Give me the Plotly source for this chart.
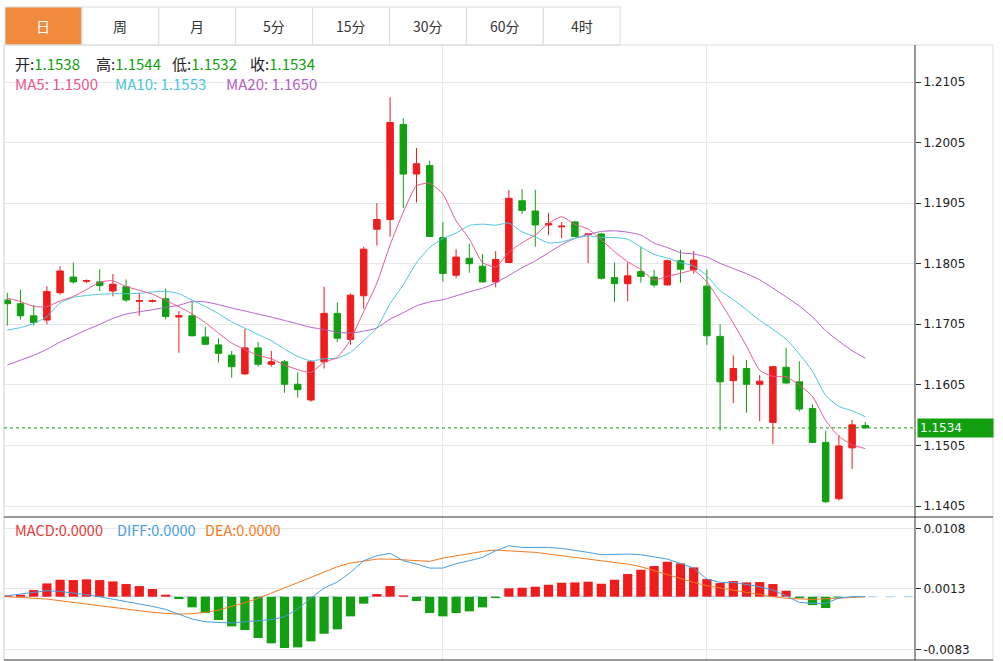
import plotly.graph_objects as go
import pandas as pd

W, H = 1003, 661

# ---------------- data ----------------
opens = [1.1745, 1.1739, 1.1719, 1.1712, 1.1757, 1.1783, 1.1776, 1.1775, 1.1760, 1.1767,
         1.1743, 1.1743, 1.1747, 1.1717, 1.1719, 1.1684, 1.1671, 1.1654, 1.1623, 1.1666,
         1.1639, 1.1643, 1.1606, 1.1580, 1.1643, 1.1723, 1.1680, 1.1752, 1.1862, 1.1878,
         1.2035, 1.1953, 1.1967, 1.1848, 1.1786, 1.1814, 1.1801, 1.1775, 1.1807, 1.1909,
         1.1892, 1.1869, 1.1866, 1.1874, 1.1853, 1.1854, 1.1782, 1.1772, 1.1792, 1.1783,
         1.1770, 1.1810, 1.1795, 1.1768, 1.1685, 1.1612, 1.1632, 1.1606, 1.1543, 1.1634,
         1.1610, 1.1566, 1.1510, 1.1417, 1.1501, 1.1538]
highs = [1.1757, 1.1762, 1.1737, 1.1768, 1.1801, 1.1807, 1.1779, 1.1796, 1.1788, 1.1779,
         1.1757, 1.1746, 1.1764, 1.1727, 1.1742, 1.1701, 1.1682, 1.1661, 1.1697, 1.1676,
         1.1661, 1.1646, 1.1626, 1.1646, 1.1767, 1.1741, 1.1756, 1.1833, 1.1905, 1.2080,
         1.2045, 1.1996, 1.1975, 1.1874, 1.1829, 1.1838, 1.1821, 1.1826, 1.1927, 1.1928,
         1.1927, 1.1889, 1.1874, 1.1875, 1.1855, 1.1856, 1.1807, 1.1807, 1.1832, 1.1795,
         1.1812, 1.1828, 1.1826, 1.1795, 1.1705, 1.1654, 1.1646, 1.1621, 1.1636, 1.1666,
         1.1644, 1.1573, 1.1529, 1.1522, 1.1547, 1.1544]
lows = [1.1703, 1.1713, 1.1703, 1.1705, 1.1754, 1.1772, 1.1773, 1.1760, 1.1751, 1.1742,
        1.1719, 1.1741, 1.1713, 1.1658, 1.1685, 1.1671, 1.1642, 1.1617, 1.1622, 1.1635,
        1.1635, 1.1592, 1.1584, 1.1577, 1.1632, 1.1676, 1.1671, 1.1731, 1.1835, 1.1850,
        1.1897, 1.1906, 1.1849, 1.1775, 1.1781, 1.1790, 1.1774, 1.1766, 1.1806, 1.1887,
        1.1833, 1.1852, 1.1847, 1.1849, 1.1806, 1.1779, 1.1742, 1.1743, 1.1774, 1.1766,
        1.1769, 1.1774, 1.1789, 1.1671, 1.1530, 1.1575, 1.1559, 1.1545, 1.1507, 1.1607,
        1.1561, 1.1509, 1.1410, 1.1414, 1.1466, 1.1532]
closes = [1.1739, 1.1719, 1.1708, 1.1759, 1.1793, 1.1775, 1.1777, 1.1769, 1.1771, 1.1745,
          1.1744, 1.1744, 1.1718, 1.1719, 1.1686, 1.1672, 1.1657, 1.1635, 1.1666, 1.1639,
          1.1643, 1.1606, 1.1597, 1.1643, 1.1723, 1.1682, 1.1753, 1.1829, 1.1878, 1.2038,
          1.1953, 1.1970, 1.1850, 1.1789, 1.1816, 1.1805, 1.1775, 1.1812, 1.1913, 1.1893,
          1.1869, 1.1871, 1.1867, 1.1850, 1.1854, 1.1781, 1.1772, 1.1785, 1.1784, 1.1770,
          1.1810, 1.1796, 1.1811, 1.1686, 1.1610, 1.1632, 1.1606, 1.1611, 1.1635, 1.1608,
          1.1565, 1.1510, 1.1412, 1.1504, 1.1539, 1.1534]
# closes before the visible window (estimated from where the MA lines start)
prior_closes = [1.1559, 1.1548, 1.1559, 1.1553, 1.1575, 1.1577, 1.1589, 1.1571, 1.1605, 1.1664,
                1.1679, 1.1638, 1.1649, 1.1563, 1.1685, 1.1747, 1.1749, 1.1761, 1.1745]

macd_hist = [0.0002, 0.0003, 0.00105, 0.0021, 0.00268, 0.00263, 0.00274, 0.00263, 0.00242, 0.0020,
             0.00168, 0.00121, 0.00032, -0.00037, -0.00168, -0.00258, -0.00368, -0.00468, -0.00526, -0.00652,
             -0.00736, -0.0081, -0.0080, -0.00705, -0.00584, -0.00515, -0.0031, -0.0011, 0.00042, 0.00168,
             0.00021, -0.00068, -0.00258, -0.0031, -0.00258, -0.00231, -0.00168, -0.00021, 0.00132, 0.00142,
             0.00158, 0.00189, 0.00221, 0.00226, 0.00237, 0.00205, 0.00268, 0.00358, 0.00426, 0.00484,
             0.00552, 0.00526, 0.00463, 0.00279, 0.00216, 0.00247, 0.00226, 0.00231, 0.0020, 0.00095,
             -0.00021, -0.00132, -0.00179, -0.00016, 0.0, 0.0]
diff_line = [0.00016, 0.00042, 0.00068, 0.00095, 0.00084, 0.00063, 0.00032, 0.0, -0.00037, -0.00074,
             -0.0011, -0.00153, -0.0020, -0.00274, -0.00352, -0.00395, -0.0041, -0.00416, -0.00395, -0.00384,
             -0.00363, -0.00316, -0.00195, -0.00021, 0.00137, 0.00231, 0.00384, 0.00568, 0.00647, 0.00684,
             0.00568, 0.00515, 0.00452, 0.00452, 0.00521, 0.00568, 0.00621, 0.00726, 0.00805, 0.00778,
             0.00778, 0.00778, 0.00763, 0.00736, 0.0070, 0.00663, 0.00673, 0.00673, 0.00663, 0.00631,
             0.00594, 0.00526, 0.00452, 0.00279, 0.00226, 0.00226, 0.00189, 0.00158, 0.00105, 0.00016,
             -0.00089, -0.00105, -0.00105, -0.00021, 0.0, 0.0]
dea_line = [0.0, -0.00011, -0.00021, -0.00037, -0.00063, -0.00089, -0.00121, -0.00147, -0.00174, -0.0020,
            -0.00221, -0.00247, -0.00263, -0.00274, -0.00268, -0.00247, -0.0021, -0.00158, -0.00095, -0.00026,
            0.00053, 0.00137, 0.00221, 0.00305, 0.00395, 0.00473, 0.00531, 0.00568, 0.00594, 0.00594,
            0.00579, 0.00568, 0.00558, 0.0061, 0.00647, 0.00684, 0.00715, 0.00736, 0.00726, 0.00715,
            0.0070, 0.00673, 0.00647, 0.00621, 0.00594, 0.00568, 0.00542, 0.00515, 0.00473, 0.0041,
            0.00347, 0.00279, 0.00226, 0.00174, 0.00137, 0.00105, 0.00068, 0.00032, 0.0, -0.00026,
            -0.00037, -0.00042, -0.00032, -0.00021, 0.0, 0.0]

price_ticks = [1.1405, 1.1505, 1.1605, 1.1705, 1.1805, 1.1905, 1.2005, 1.2105]
macd_ticks = [-0.0083, 0.0013, 0.0108]
month_marks = [33, 53]
tabs = ["日", "周", "月", "5分", "15分", "30分", "60分", "4时"]
ohlc_names = ["开", "高", "低", "收"]
ma_header = ["MA5: 1.1500", "MA10: 1.1553", "MA20: 1.1650"]
macd_header = ["MACD:0.0000", "DIFF:0.0000", "DEA:0.0000"]

# ---------------- styles ----------------
RED = "#ee1c1c"
GREEN = "#12a012"
C_MA5 = "#e8578a"
C_MA10 = "#4cc4dc"
C_MA20 = "#b35fc8"
C_DIFF = "#4a9de0"
C_DEA = "#f27a22"
GRID = "#e8e8e8"
AX = "#333333"
CJK = "Noto Sans CJK SC"
NUMF = "DejaVu Sans"


def px(x):
    return x / W


def py(y):
    return 1 - y / H


n = len(closes)
idx = list(range(n))
allc = pd.Series(prior_closes + closes)
ma5 = allc.rolling(5).mean().tolist()[-n:]
ma10 = allc.rolling(10).mean().tolist()[-n:]
ma20 = allc.rolling(20).mean().tolist()[-n:]

X0, X1 = 4, 915           # plot area pixels
P_TOP, P_BOT = 45, 517    # price panel
M_TOP, M_BOT = 517, 660   # macd panel
STEP = 13.2
FIRST = 7.3
xr = [(X0 - FIRST) / STEP, (X1 - FIRST) / STEP]

# price axis: 1.2105 at y=82, 1.1405 at y=506
ppx = (506 - 82) / (1.2105 - 1.1405)
prange = [1.1405 - (P_BOT - 506) / ppx, 1.2105 + (82 - P_TOP) / ppx]
# macd axis: 0.0108 at y=528.3, -0.0083 at y=649.3
mpx = (649.3 - 528.3) / (0.0108 + 0.0083)
mrange = [-0.0083 - (M_BOT - 649.3) / mpx, 0.0108 + (528.3 - M_TOP) / mpx]

fig = go.Figure()

fig.add_trace(go.Candlestick(
    x=idx, open=opens, high=highs, low=lows, close=closes,
    increasing=dict(line=dict(color=RED, width=1), fillcolor=RED),
    decreasing=dict(line=dict(color=GREEN, width=1), fillcolor=GREEN),
    whiskerwidth=0, hoverinfo="skip", xaxis="x", yaxis="y", showlegend=False))

for vals, col in [(ma20, C_MA20), (ma10, C_MA10), (ma5, C_MA5)]:
    fig.add_trace(go.Scatter(x=idx, y=vals, mode="lines",
                             line=dict(color=col, width=1, shape="spline", smoothing=0.5),
                             hoverinfo="skip", xaxis="x", yaxis="y", showlegend=False))

fig.add_trace(go.Bar(x=idx, y=macd_hist,
                     marker=dict(color=[RED if v >= 0 else GREEN for v in macd_hist], line=dict(width=0)),
                     width=0.7, hoverinfo="skip", xaxis="x2", yaxis="y2", showlegend=False))
fig.add_trace(go.Scatter(x=idx, y=dea_line, mode="lines", line=dict(color=C_DEA, width=1),
                         hoverinfo="skip", xaxis="x2", yaxis="y2", showlegend=False))
fig.add_trace(go.Scatter(x=idx, y=diff_line, mode="lines", line=dict(color=C_DIFF, width=1),
                         hoverinfo="skip", xaxis="x2", yaxis="y2", showlegend=False))

shapes = []
# tabs
tab_edges = [5 + 76.9 * i for i in range(len(tabs) + 1)]
for i in range(len(tabs)):
    shapes.append(dict(type="rect", xref="paper", yref="paper",
                       x0=px(tab_edges[i]), x1=px(tab_edges[i + 1]), y0=py(45), y1=py(7),
                       line=dict(color="#dcdcdc", width=1),
                       fillcolor="#f08a3d" if i == 0 else "white", layer="above"))


def hline(y, x0, x1, color, width=1, dash="solid"):
    shapes.append(dict(type="line", xref="paper", yref="paper", x0=px(x0), x1=px(x1),
                       y0=py(y), y1=py(y), line=dict(color=color, width=width, dash=dash)))


def vline(x, y0, y1, color, width=1):
    shapes.append(dict(type="line", xref="paper", yref="paper", x0=px(x), x1=px(x),
                       y0=py(y0), y1=py(y1), line=dict(color=color, width=width)))


hline(45, 4, 993, "#dcdcdc")
vline(4, 45, 660, "#cfcfcf")
vline(993, 45, 660, "#dcdcdc")
hline(517, 4, 993, AX)
hline(660, 4, 993, AX)
vline(915, 45, 660, AX)

# last price dotted line
shapes.append(dict(type="line", xref="paper", yref="y", x0=px(X0), x1=px(X1),
                   y0=closes[-1], y1=closes[-1], line=dict(color=GREEN, width=1, dash="dot")))
# macd zero dashed line
shapes.append(dict(type="line", xref="paper", yref="y2", x0=px(X0), x1=px(X1),
                   y0=0, y1=0, line=dict(color="#a9d3ee", width=1, dash="dash"), layer="below"))

ann = []
for i, t in enumerate(tabs):
    ann.append(dict(x=px((tab_edges[i] + tab_edges[i + 1]) / 2), y=py(26), xref="paper", yref="paper",
                    text=t, showarrow=False, xanchor="center", yanchor="middle",
                    font=dict(family=CJK, size=14, color="white" if i == 0 else "#333333")))

ohlc_vals = [opens[-1], highs[-1], lows[-1], closes[-1]]
ohlc_x = [13, 94, 170, 248]
for name, v, x in zip(ohlc_names, ohlc_vals, ohlc_x):
    ann.append(dict(x=px(x), y=py(63), xref="paper", yref="paper", showarrow=False,
                    xanchor="left", yanchor="middle",
                    text=f'{name}:<span style="color:{GREEN}">{v:.4f}</span>',
                    font=dict(family=CJK, size=15, color="#222222")))
for t, x, col in zip(ma_header, [13, 113, 224], [C_MA5, C_MA10, C_MA20]):
    ann.append(dict(x=px(x), y=py(83), xref="paper", yref="paper", showarrow=False,
                    xanchor="left", yanchor="middle", text=t,
                    font=dict(family=CJK, size=15, color=col)))
for t, x, col in zip(macd_header, [13, 115, 203], ["#e83838", C_DIFF, C_DEA]):
    ann.append(dict(x=px(x), y=py(529), xref="paper", yref="paper", showarrow=False,
                    xanchor="left", yanchor="middle", text=t,
                    font=dict(family=CJK, size=14.5, color=col)))
# last price tag
ann.append(dict(x=px(916.5), y=closes[-1], xref="paper", yref="y", showarrow=False,
                xanchor="left", yanchor="middle", text=f"{closes[-1]:.4f}", align="left",
                bgcolor=GREEN, width=71, height=14, borderpad=2,
                font=dict(family=NUMF, size=12, color="white")))

fig.update_layout(
    width=W, height=H, autosize=False,
    margin=dict(l=0, r=0, t=0, b=0, pad=0),
    paper_bgcolor="white", plot_bgcolor="white",
    hovermode=False, showlegend=False, boxgap=0.3, bargap=0.3,
    shapes=shapes, annotations=ann,
    xaxis=dict(domain=[px(X0), px(X1)], range=xr, anchor="y", tickvals=month_marks,
               showticklabels=False, ticks="", showgrid=True, gridcolor=GRID, gridwidth=1,
               zeroline=False, showline=False, rangeslider=dict(visible=False), fixedrange=True),
    xaxis2=dict(domain=[px(X0), px(X1)], range=xr, anchor="y2", matches="x", tickvals=month_marks,
                showticklabels=False, ticks="", showgrid=True, gridcolor=GRID, gridwidth=1,
                zeroline=False, showline=False, fixedrange=True),
    yaxis=dict(domain=[py(P_BOT), py(P_TOP)], range=prange, anchor="x", side="right",
               tickvals=price_ticks, ticktext=[f"{v:.4f}" for v in price_ticks],
               ticks="outside", ticklen=5, tickcolor=AX, tickwidth=1,
               tickfont=dict(family=NUMF, size=12, color="#222222"),
               showgrid=True, gridcolor=GRID, gridwidth=1, zeroline=False, showline=False,
               fixedrange=True),
    yaxis2=dict(domain=[py(M_BOT), py(M_TOP)], range=mrange, anchor="x2", side="right",
                tickvals=macd_ticks, ticktext=[f"{v:.4f}" for v in macd_ticks],
                ticks="outside", ticklen=5, tickcolor=AX, tickwidth=1,
                tickfont=dict(family=NUMF, size=12, color="#222222"),
                showgrid=True, gridcolor=GRID, gridwidth=1, zeroline=False, showline=False,
                fixedrange=True),
)

fig.write_html("out.html", config={"displayModeBar": False, "staticPlot": True},
               post_script="document.body.style.margin='0';")
